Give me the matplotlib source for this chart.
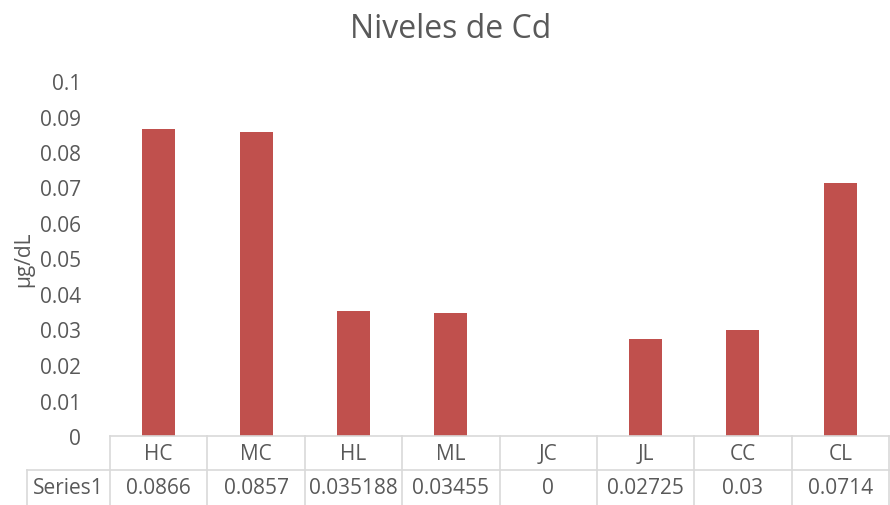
import numpy as np
import matplotlib.pyplot as plt
import matplotlib.transforms as mtrans

plt.rcParams['font.family'] = ['Open Sans', 'DejaVu Sans']

# DATA
categories = ['HC', 'MC', 'HL', 'ML', 'JC', 'JL', 'CC', 'CL']
values = [0.0866, 0.0857, 0.035188, 0.03455, 0, 0.02725, 0.03, 0.0714]
value_labels = ['0.0866', '0.0857', '0.035188', '0.03455', '0', '0.02725', '0.03', '0.0714']
series_name = 'Series1'

BAR_COLOR = '#C0504D'
TEXT = '#595959'
GRID = '#D9D9D9'

fig = plt.figure(figsize=(8.9, 5.06), dpi=100)
ax = fig.add_axes([110/890, 69/506, 779/890, 355/506])

x = np.arange(len(categories))
ax.bar(x, values, width=0.34, color=BAR_COLOR)

ax.set_xlim(-0.5, len(categories) - 0.5)
ax.set_ylim(0, 0.1)
ax.set_yticks(np.arange(0, 0.101, 0.01))
ax.set_yticklabels(['0', '0.01', '0.02', '0.03', '0.04', '0.05', '0.06', '0.07', '0.08', '0.09', '0.1'])
ax.tick_params(axis='y', length=0, labelsize=15, colors=TEXT, pad=21)
ax.set_xticks([])
for s in ['top', 'right', 'left']:
    ax.spines[s].set_visible(False)
ax.spines['bottom'].set_color(GRID)
ax.spines['bottom'].set_linewidth(1.2)

ax.set_ylabel('µg/dL', fontsize=15, color=TEXT)
ax.yaxis.set_label_coords(-0.097, 0.5)
fig.text(0.506, 0.942, 'Niveles de Cd', ha='center', va='center', fontsize=23, color=TEXT)

# data table under the axis
trans = mtrans.blended_transform_factory(ax.transData, ax.transAxes)
row_h = 0.097
left_edge = -1.35
for k in range(len(categories) + 1):
    ax.plot([k - 0.5, k - 0.5], [0, -2 * row_h], transform=trans, color=GRID, lw=1.2, clip_on=False)
ax.plot([left_edge, len(categories) - 0.5], [-row_h, -row_h], transform=trans, color=GRID, lw=1.2, clip_on=False)
ax.plot([left_edge, left_edge], [-row_h, -2 * row_h], transform=trans, color=GRID, lw=1.2, clip_on=False)

for i, c in enumerate(categories):
    ax.text(i, -row_h / 2, c, transform=trans, ha='center', va='center', fontsize=15, color=TEXT)
    ax.text(i, -1.5 * row_h, value_labels[i], transform=trans, ha='center', va='center', fontsize=15, color=TEXT)
ax.text((left_edge - 0.5) / 2, -1.5 * row_h, series_name, transform=trans, ha='center', va='center',
        fontsize=15, color=TEXT)

plt.savefig('out.png', dpi=100)
